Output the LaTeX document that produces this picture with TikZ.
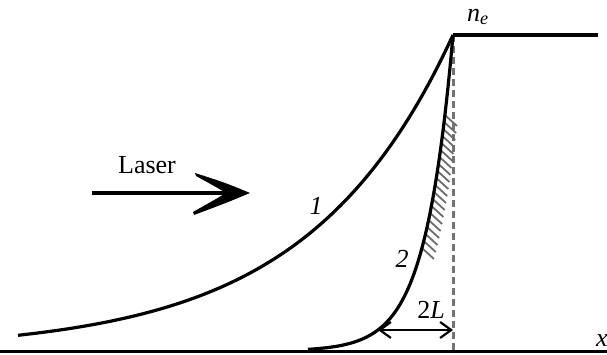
\documentclass[tikz,border=0pt]{standalone}
\usepackage{amsmath}
\usepackage{fontspec}
\setmainfont{Liberation Serif}
\usetikzlibrary{arrows.meta}

\begin{document}
\begin{tikzpicture}[x=1pt,y=1pt,
  curve/.style={line width=3.2pt},
  hatch/.style={gray!85!black,line width=1.8pt},
  lbl/.style={inner sep=0pt,font=\fontsize{26}{30}\selectfont}]
\useasboundingbox (0,0) rectangle (607,355);
\coordinate (peak) at (453,320); \coordinate (foot) at (453,3);
\coordinate (top) at (598,320);
\coordinate (ls) at (92,162); \coordinate (le) at (250,162);
\coordinate (wl) at (378,25); \coordinate (wr) at (453,25);
% front of the target
\draw[gray!90!black,line width=3pt,dash pattern=on 7pt off 4pt] (peak) -- (foot);
\foreach \h in {107,114,...,245}
  \draw[hatch] ({453+27.7*ln((\h-4)/316)},\h) -- ++(12,-11);
\draw[line width=3pt] (0,3) -- (607,3);
\draw[curve] (peak) -- (top);
% density profiles
\draw[curve] plot[domain=18:453,samples=90] (\x,{4+316*exp((\x-453)/145)});
\draw[curve] plot[domain=308:453,samples=90] (\x,{4+316*exp((\x-453)/27.7)});
% laser
\draw[line width=3.2pt] (ls) -- ([xshift=-15pt]le);
\fill (le) .. controls ([shift={(-24,10)}]le) .. ([shift={(-55,20)}]le)
  -- ([shift={(-54,17)}]le) .. controls ([shift={(-34,6)}]le) .. ([shift={(-24,0)}]le)
  .. controls ([shift={(-34,-6)}]le) .. ([shift={(-57,-19)}]le)
  -- ([shift={(-56,-22)}]le) .. controls ([shift={(-24,-10)}]le) .. (le) -- cycle;
\draw[line width=2.2pt,{Straight Barb[length=11pt,width=16pt]}-{Straight Barb[length=11pt,width=16pt]}] (wl) -- (wr);
\node[lbl] (laser) at (147,190) {Laser};
\node[lbl] (one) at (316,149) {\textit{1}};
\node[lbl] (two) at (402,96) {\textit{2}};
\node[lbl] (width) at (431,45) {2\textit{L}};
\node[lbl] (ne) at (478,338) {\textit{n}\textsubscript{\textit{e}}};
\node[lbl] (xl) at (602,14) {\textit{x}};
\end{tikzpicture}
\end{document}
